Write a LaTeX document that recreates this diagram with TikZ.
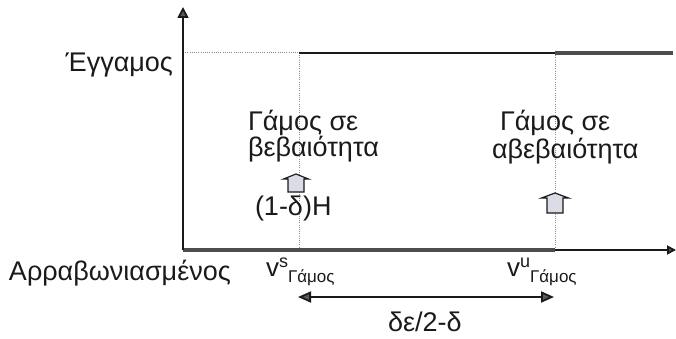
\documentclass[tikz,border=0pt]{standalone}
\usepackage{fontspec}
\setmainfont{Liberation Sans}
\usetikzlibrary{arrows.meta}
\definecolor{txtc}{HTML}{1A1A1A}
\definecolor{thickc}{HTML}{4D4D4D}
\definecolor{tipc}{HTML}{5A5A5A}
\definecolor{boxc}{HTML}{DCDCE6}
\definecolor{dotc}{HTML}{8A8A8A}
\begin{document}
\begin{tikzpicture}[x=1pt,y=-1pt,
  lbl/.style={inner sep=0pt, outer sep=0pt, text=txtc, font=\fontsize{27}{30}\selectfont},
  axisline/.style={line width=1.8pt, draw=txtc},
  ytip/.style={-{Triangle[length=11pt,width=11pt,fill=tipc]}},
  xtip/.style={-{Triangle[length=9pt,width=9pt,fill=tipc]}},
  thickline/.style={line width=4.5pt, draw=thickc},
  thinline/.style={line width=1.4pt, draw=txtc},
  dotline/.style={line width=1pt, draw=dotc, dash pattern=on 1pt off 1.2pt},
  blockarrow/.style={fill=boxc, draw=txtc, line width=1.2pt, line join=miter},
  spanarrow/.style={line width=1.8pt, draw=txtc,
    {Triangle[length=13pt,width=11pt,fill=tipc]}-{Triangle[length=13pt,width=11pt,fill=tipc]}}]
\useasboundingbox (0,0) rectangle (676,339);

% key coordinates
\coordinate (O) at (183,250);
\coordinate (Ytop) at (183,7);
\coordinate (Xend) at (676,250);
\coordinate (S) at (299,250);
\coordinate (U) at (555,250);
\coordinate (Ylev) at (183,53);
\coordinate (Stop) at (299,53);
\coordinate (Utop) at (555,53);
\coordinate (Rend) at (673,53);
\coordinate (DL) at (298,297);
\coordinate (DR) at (554,297);
\coordinate (B1) at (296,192);
\coordinate (B2) at (555,213);

% dotted guides
\draw[dotline] (Ylev) -- (Stop);
\draw[dotline] (Stop) -- (S);
\draw[dotline] (Utop) -- (U);

% levels
\draw[thinline] (Stop) -- (Utop);
\draw[thickline] (Utop) -- (Rend);
\draw[thickline] (O) -- (U);

% axes
\draw[axisline, ytip] (O) -- (Ytop);
\draw[axisline, xtip] (U) -- (Xend);

% block arrows
\draw[blockarrow, shift={(B1)}] (-8,0) -- (8,0) -- (8,-13) -- (12.5,-13) -- (0,-18) -- (-12.5,-13) -- (-8,-13) -- cycle;
\draw[blockarrow, shift={(B2)}] (-8,0) -- (8,0) -- (8,-15) -- (13.5,-15) -- (0,-20) -- (-13.5,-15) -- (-8,-15) -- cycle;

% span arrow
\draw[spanarrow] (DL) -- (DR);

% labels
\node[lbl, anchor=base east] (married) at (173,72) {Έγγαμος};
\node[lbl, anchor=base west] (engaged) at (9,280) {Αρραβωνιασμένος};
\node[lbl, anchor=base west] (c1a) at (248,131) {Γάμος σε};
\node[lbl, anchor=base west] (c1b) at (248,157) {βεβαιότητα};
\node[lbl, anchor=base west] (c2a) at (500,131) {Γάμος σε};
\node[lbl, anchor=base west] (c2b) at (492,158) {αβεβαιότητα};
\node[lbl, anchor=base west] (h) at (255,215) {(1-δ)H};
\node[lbl, anchor=base west] (vs) at (266,276) {\fontsize{26}{26}\selectfont v\raisebox{9pt}{\fontsize{18}{18}\selectfont s}\raisebox{-6pt}{\fontsize{17}{17}\selectfont Γάμος}};
\node[lbl, anchor=base west] (vu) at (507,276) {\fontsize{26}{26}\selectfont v\raisebox{9pt}{\fontsize{18}{18}\selectfont u}\raisebox{-6pt}{\fontsize{17}{17}\selectfont Γάμος}};
\node[lbl, anchor=base west] (span) at (388,331) {δε/2-δ};
\end{tikzpicture}
\end{document}
